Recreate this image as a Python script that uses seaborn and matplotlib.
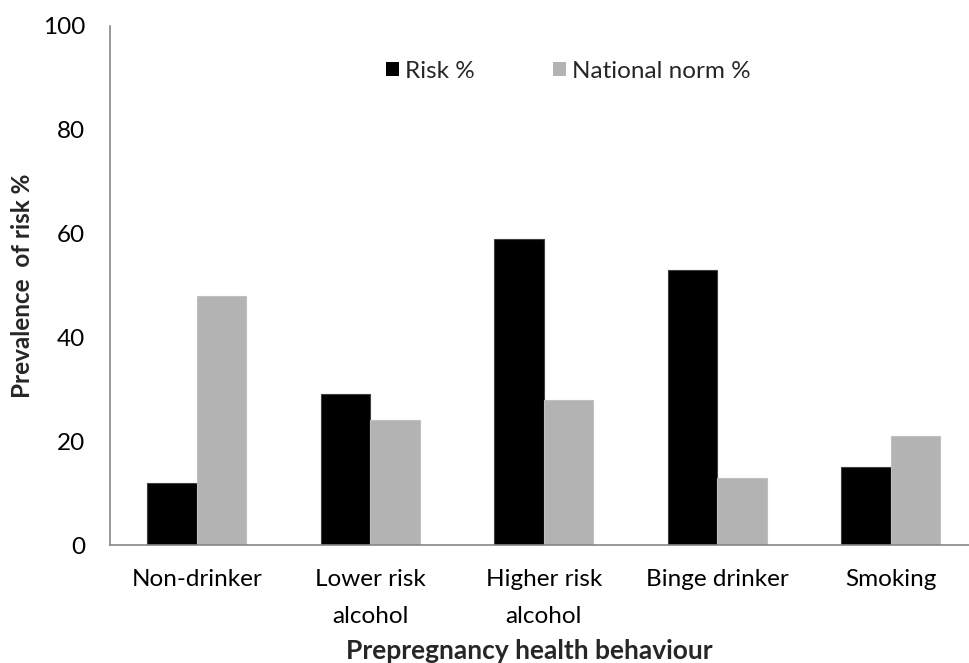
import matplotlib
matplotlib.use("Agg")
import matplotlib.pyplot as plt
from matplotlib.patches import Patch
import seaborn as sns
import pandas as pd

categories = ["Non-drinker", "Lower risk\nalcohol", "Higher risk\nalcohol", "Binge drinker", "Smoking"]
risk_pct = [12, 29, 59, 53, 15]
national_norm_pct = [48, 24, 28, 13, 21]
series_names = ["Risk %", "National norm %"]
y_ticks = [0, 20, 40, 60, 80, 100]

sns.set_theme(style="white")
plt.rcParams["font.family"] = ["Lato", "DejaVu Sans"]

df = pd.DataFrame({
    "behaviour": categories * 2,
    "value": risk_pct + national_norm_pct,
    "series": [series_names[0]] * len(categories) + [series_names[1]] * len(categories),
})

colors = {series_names[0]: "#000000", series_names[1]: "#b3b3b3"}
axis_gray = "#868686"
fs = 17.5

fig = plt.figure(figsize=(9.7, 6.63), dpi=100)
W, H = 970, 663
ax = fig.add_axes([110 / W, 118 / H, (977.5 - 110) / W, 519 / H])

sns.barplot(data=df, x="behaviour", y="value", hue="series", palette=colors,
            width=0.57, gap=0, saturation=1, ax=ax, legend=False)

for bar in ax.patches:
    fc = bar.get_facecolor()
    if fc[0] < 0.5:
        bar.set_edgecolor("#404040")
    else:
        bar.set_edgecolor("#c0c0c0")
    bar.set_linewidth(0.8)

ax.set_xlim(-0.5, len(categories) - 0.5)
ax.set_ylim(0, 100)
ax.set_yticks(y_ticks)
ax.set_yticklabels([str(t) for t in y_ticks], fontsize=fs)

ax.set_xticks(range(len(categories)))
ax.set_xticklabels(categories, fontsize=fs, linespacing=1.95)
ax.set_xticks([i - 0.5 for i in range(len(categories) + 1)], minor=True)
ax.tick_params(axis="x", which="major", length=0, pad=17, colors="black")
ax.tick_params(axis="x", which="minor", length=6, width=1, color=axis_gray, direction="out")
ax.tick_params(axis="y", which="major", length=6, width=1, color=axis_gray, direction="out",
               pad=12, labelcolor="black")

for side in ("top", "right"):
    ax.spines[side].set_visible(False)
for side in ("left", "bottom"):
    ax.spines[side].set_color(axis_gray)
    ax.spines[side].set_linewidth(1.2)

ax.set_xlabel("Prepregnancy health behaviour", fontsize=19, fontweight="bold")
ax.set_ylabel("Prevalence  of risk %", fontsize=fs, fontweight="bold")
ax.xaxis.set_label_coords(0.483, -0.182)
ax.yaxis.set_label_coords(-0.088, 0.5)

handles = [Patch(facecolor=colors[s], edgecolor="none") for s in series_names]
fig.legend(handles, series_names, loc="center left",
           bbox_to_anchor=(386 / W, 1 - 71 / H), bbox_transform=fig.transFigure,
           ncol=2, frameon=False, fontsize=fs, handlelength=0.55, handleheight=0.55,
           handletextpad=0.25, columnspacing=3.2, borderpad=0, borderaxespad=0)

fig.savefig("out.png", dpi=100, facecolor="white")
